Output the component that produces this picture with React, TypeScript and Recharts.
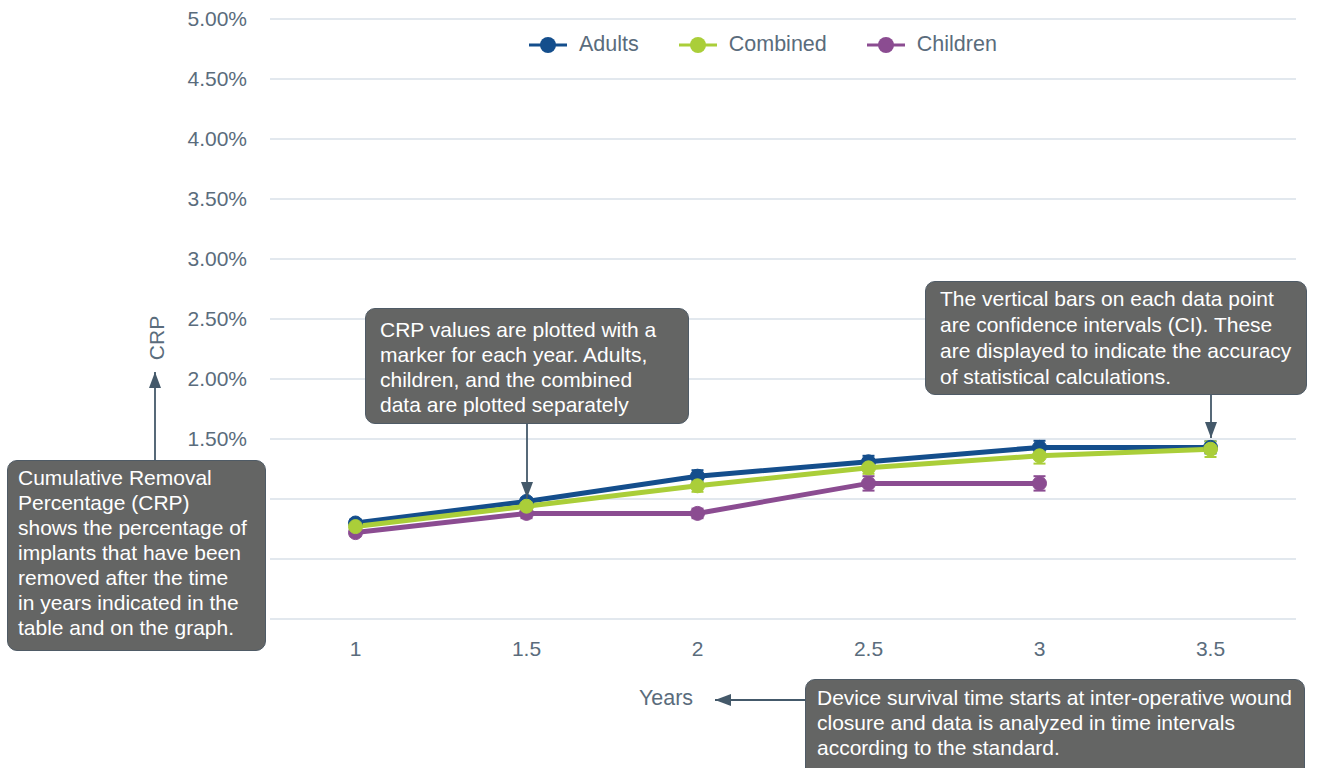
import React from "react";
import { LineChart, Line, XAxis, YAxis, CartesianGrid, ErrorBar, Legend } from "recharts";

const years = [1, 1.5, 2, 2.5, 3, 3.5];
const adults = [0.8, 0.98, 1.19, 1.31, 1.43, 1.43];
const adultsCI = [0.03, 0.03, 0.05, 0.05, 0.055, 0.05];
const combined = [0.77, 0.94, 1.11, 1.26, 1.36, 1.415];
const combinedCI = [0.03, 0.03, 0.05, 0.05, 0.065, 0.065];
const children = [0.72, 0.88, 0.88, 1.13, 1.13, null];
const childrenCI = [0.03, 0.04, 0.04, 0.06, 0.06, null];
const yTicks = [0, 0.5, 1, 1.5, 2, 2.5, 3, 3.5, 4, 4.5, 5];
// labels below 1.50% sit under the CRP note box in the reference
const firstShownTick = 1.5;

const legendOrder = ["Adults", "Combined", "Children"];

const noteValues = [
  "CRP values are plotted with a",
  "marker for each year. Adults,",
  "children, and the combined",
  "data are plotted separately",
];
const noteCI = [
  "The vertical bars on each data point",
  "are confidence intervals (CI). These",
  "are displayed to indicate the accuracy",
  "of statistical calculations.",
];
const noteCRP = [
  "Cumulative Removal",
  "Percentage (CRP)",
  "shows the percentage of",
  "implants that have been",
  "removed after the time",
  "in years indicated in the",
  "table and on the graph.",
];
const noteYears = [
  "Device survival time starts at inter-operative wound",
  "closure and data is analyzed in time intervals",
  "according to the standard.",
];

const data = years.map((year, i) => ({
  year,
  Adults: adults[i],
  adultsErr: adultsCI[i],
  Combined: combined[i],
  combinedErr: combinedCI[i],
  Children: children[i],
  childrenErr: childrenCI[i],
}));

const colors: Record<string, string> = {
  Adults: "#144e8c",
  Combined: "#aace39",
  Children: "#8b4c91",
};

const font = '"Liberation Sans", Arial, Helvetica, sans-serif';
const axisColor = "#5a6c7c";
const arrowColor = "#44596a";

function LegendContent() {
  return (
    <div style={{ display: "flex", alignItems: "center", fontFamily: font, fontSize: 21.5, color: axisColor }}>
      {legendOrder.map((name) => (
        <div key={name} style={{ display: "flex", alignItems: "center", marginRight: 40 }}>
          <svg width={38} height={20} style={{ marginRight: 12 }}>
            <line x1={0} y1={10} x2={38} y2={10} stroke={colors[name]} strokeWidth={3} />
            <circle cx={19} cy={10} r={8} fill={colors[name]} />
          </svg>
          <span>{name}</span>
        </div>
      ))}
    </div>
  );
}

function Note({ lines, x, y, w, h, padTop, padLeft, lineH }: { lines: string[]; x: number; y: number; w: number; h: number; padTop: number; padLeft: number; lineH: number }) {
  return (
    <div
      style={{
        position: "absolute",
        left: x,
        top: y,
        width: w,
        height: h,
        boxSizing: "border-box",
        background: "#646564",
        border: "1.5px solid #4f5b66",
        borderRadius: 10,
        color: "#ffffff",
        fontFamily: font,
        fontSize: 21,
        lineHeight: `${lineH}px`,
        paddingTop: padTop,
        paddingLeft: padLeft,
        whiteSpace: "pre",
      }}
    >
      {lines.map((l) => (
        <div key={l}>{l}</div>
      ))}
    </div>
  );
}

export default function App() {
  return (
    <div style={{ position: "absolute", left: 0, top: 0, width: 1321, height: 768, background: "#fff", overflow: "hidden" }}>
      <LineChart width={1321} height={768} data={data} margin={{ top: 19, right: 25, bottom: 119, left: 0 }}>
        <CartesianGrid vertical={false} stroke="#d8e1e8" strokeWidth={1.5} />
        <XAxis
          dataKey="year"
          type="number"
          domain={[0.75, 3.75]}
          ticks={years}
          axisLine={false}
          tickLine={false}
          tickMargin={16}
          height={30}
          tick={{ fontSize: 21, fill: axisColor, fontFamily: font }}
        />
        <YAxis
          domain={[0, 5]}
          ticks={yTicks}
          width={270}
          axisLine={false}
          tickLine={false}
          tickMargin={17}
          tickFormatter={(v: number) => (v < firstShownTick ? "" : v.toFixed(2) + "%")}
          tick={{ fontSize: 21, fill: axisColor, fontFamily: font }}
        />
        <Legend
          verticalAlign="middle"
          align="center"
          layout="horizontal"
          content={<LegendContent />}
          wrapperStyle={{ top: 32, left: 529, width: 600, height: 22 }}
        />
        {(["Children", "Adults", "Combined"] as const).map((name) => (
          <Line
            key={name}
            type="linear"
            dataKey={name}
            stroke={colors[name]}
            strokeWidth={5}
            dot={{ r: 7, fill: colors[name], stroke: colors[name], strokeWidth: 1 }}
            activeDot={false}
            connectNulls={false}
            isAnimationActive={false}
          >
            <ErrorBar
              dataKey={name === "Adults" ? "adultsErr" : name === "Combined" ? "combinedErr" : "childrenErr"}
              direction="y"
              width={6}
              strokeWidth={2}
              stroke={colors[name]}
              isAnimationActive={false}
            />
          </Line>
        ))}
      </LineChart>

      <svg width={1321} height={768} style={{ position: "absolute", left: 0, top: 0, pointerEvents: "none" }}>
        <defs>
          <marker id="arrow" viewBox="0 0 16 12" refX={16} refY={6} markerWidth={16} markerHeight={12} orient="auto" markerUnits="userSpaceOnUse">
            <path d="M0,0 L16,6 L0,12 z" fill={arrowColor} />
          </marker>
        </defs>
        <g stroke={arrowColor} strokeWidth={1.8}>
          <line x1={155} y1={460} x2={155} y2={372} markerEnd="url(#arrow)" />
          <line x1={527} y1={423} x2={527} y2={498} markerEnd="url(#arrow)" />
          <line x1={1211} y1={394} x2={1211} y2={438} markerEnd="url(#arrow)" />
          <line x1={805} y1={700} x2={715} y2={700} markerEnd="url(#arrow)" />
        </g>
        <text x={666} y={705} textAnchor="middle" fontFamily={font} fontSize={21.5} fill={axisColor}>
          Years
        </text>
        <text
          x={164}
          y={338}
          textAnchor="middle"
          fontFamily={font}
          fontSize={21}
          fill={axisColor}
          transform="rotate(-90 164 338)"
        >
          CRP
        </text>
      </svg>

      <Note lines={noteValues} x={365} y={308} w={324} h={116} padTop={8} padLeft={14} lineH={25} />
      <Note lines={noteCI} x={925} y={281} w={382} h={114} padTop={4} padLeft={14} lineH={26} />
      <Note lines={noteCRP} x={7} y={460} w={259} h={191} padTop={4} padLeft={10} lineH={25} />
      <Note lines={noteYears} x={805} y={679} w={500} h={100} padTop={5} padLeft={11} lineH={25} />
    </div>
  );
}
